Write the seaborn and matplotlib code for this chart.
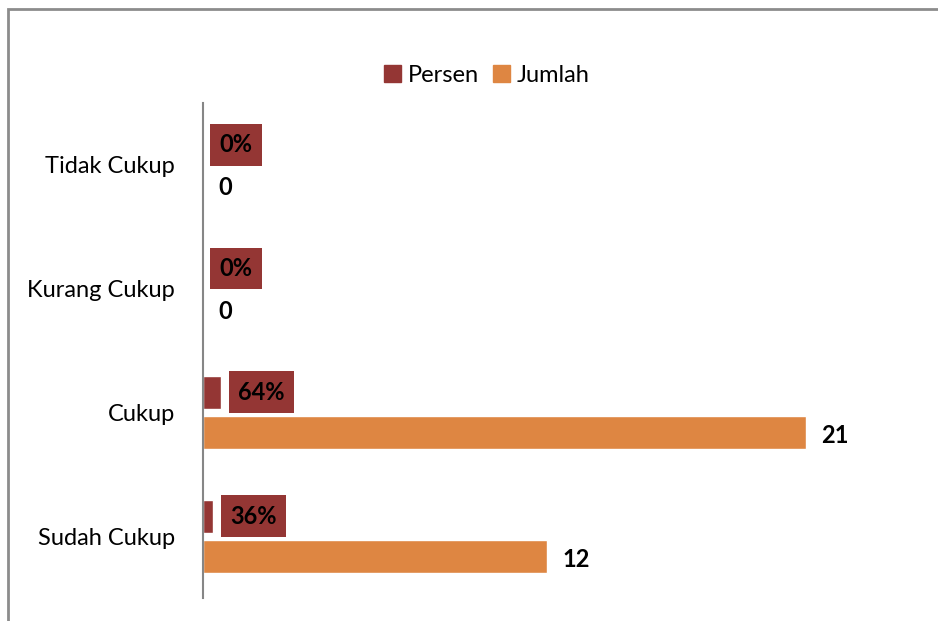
import matplotlib
matplotlib.use("Agg")
import matplotlib.pyplot as plt
import matplotlib.patches as mpatches
import pandas as pd
import seaborn as sns

# data
categories = ["Tidak Cukup", "Kurang Cukup", "Cukup", "Sudah Cukup"]
persen = [0.0, 0.0, 0.64, 0.36]
persen_labels = ["0%", "0%", "64%", "36%"]
jumlah = [0, 0, 21, 12]
jumlah_labels = ["0", "0", "21", "12"]

c_persen = "#943634"
c_jumlah = "#DE8642"

df = pd.DataFrame({
    "kategori": categories * 2,
    "nilai": persen + jumlah,
    "seri": ["Persen"] * len(categories) + ["Jumlah"] * len(categories),
})

sns.set_theme(style="white")
plt.rcParams["font.family"] = ["Lato", "DejaVu Sans"]

fig = plt.figure(figsize=(9.38, 6.21), dpi=100)
ax = fig.add_axes([203 / 938, 1 - 598 / 621, 660 / 938, 495 / 621])

sns.barplot(data=df, x="nilai", y="kategori", hue="seri", order=categories,
            hue_order=["Persen", "Jumlah"], palette=[c_persen, c_jumlah],
            orient="h", width=0.65, gap=0.18, saturation=1, ax=ax, legend=False)

ax.set_xlim(0, 23)
ax.set_ylim(3.5, -0.5)
ax.set_xlabel("")
ax.set_ylabel("")
ax.set_xticks([])
ax.tick_params(axis="y", length=0, pad=20, labelsize=17, labelcolor="black")
for side in ["top", "right", "bottom"]:
    ax.spines[side].set_visible(False)
ax.spines["left"].set_color("#868686")
ax.spines["left"].set_linewidth(1.5)

off = 0.65 / 4
for i in range(len(categories)):
    ax.annotate(persen_labels[i], xy=(persen[i], i - off), xytext=(12, 0),
                textcoords="offset points", ha="left", va="center",
                fontsize=17, fontweight="bold", color="black",
                bbox=dict(boxstyle="square,pad=0.4", fc=c_persen, ec="none"))
    ax.annotate(jumlah_labels[i], xy=(jumlah[i], i + off), xytext=(11, -2),
                textcoords="offset points", ha="left", va="center",
                fontsize=17, fontweight="bold", color="black")

handles = [mpatches.Patch(color=c_persen, label="Persen"),
           mpatches.Patch(color=c_jumlah, label="Jumlah")]
fig.legend(handles=handles, loc="center", bbox_to_anchor=(487 / 938, 1 - 75 / 621),
           ncol=2, frameon=False, fontsize=17, handlelength=0.7, handleheight=0.7,
           handletextpad=0.3, columnspacing=0.6, labelcolor="black")

# outer chart frame (cropped on right and bottom)
frame = mpatches.Rectangle((8 / 938, -0.05), 1.1, 1 - 9 / 621 + 0.05,
                           transform=fig.transFigure, fill=False,
                           ec="#8c8c8c", lw=2, clip_on=False)
fig.patches.append(frame)

fig.savefig("out.png", dpi=100)
